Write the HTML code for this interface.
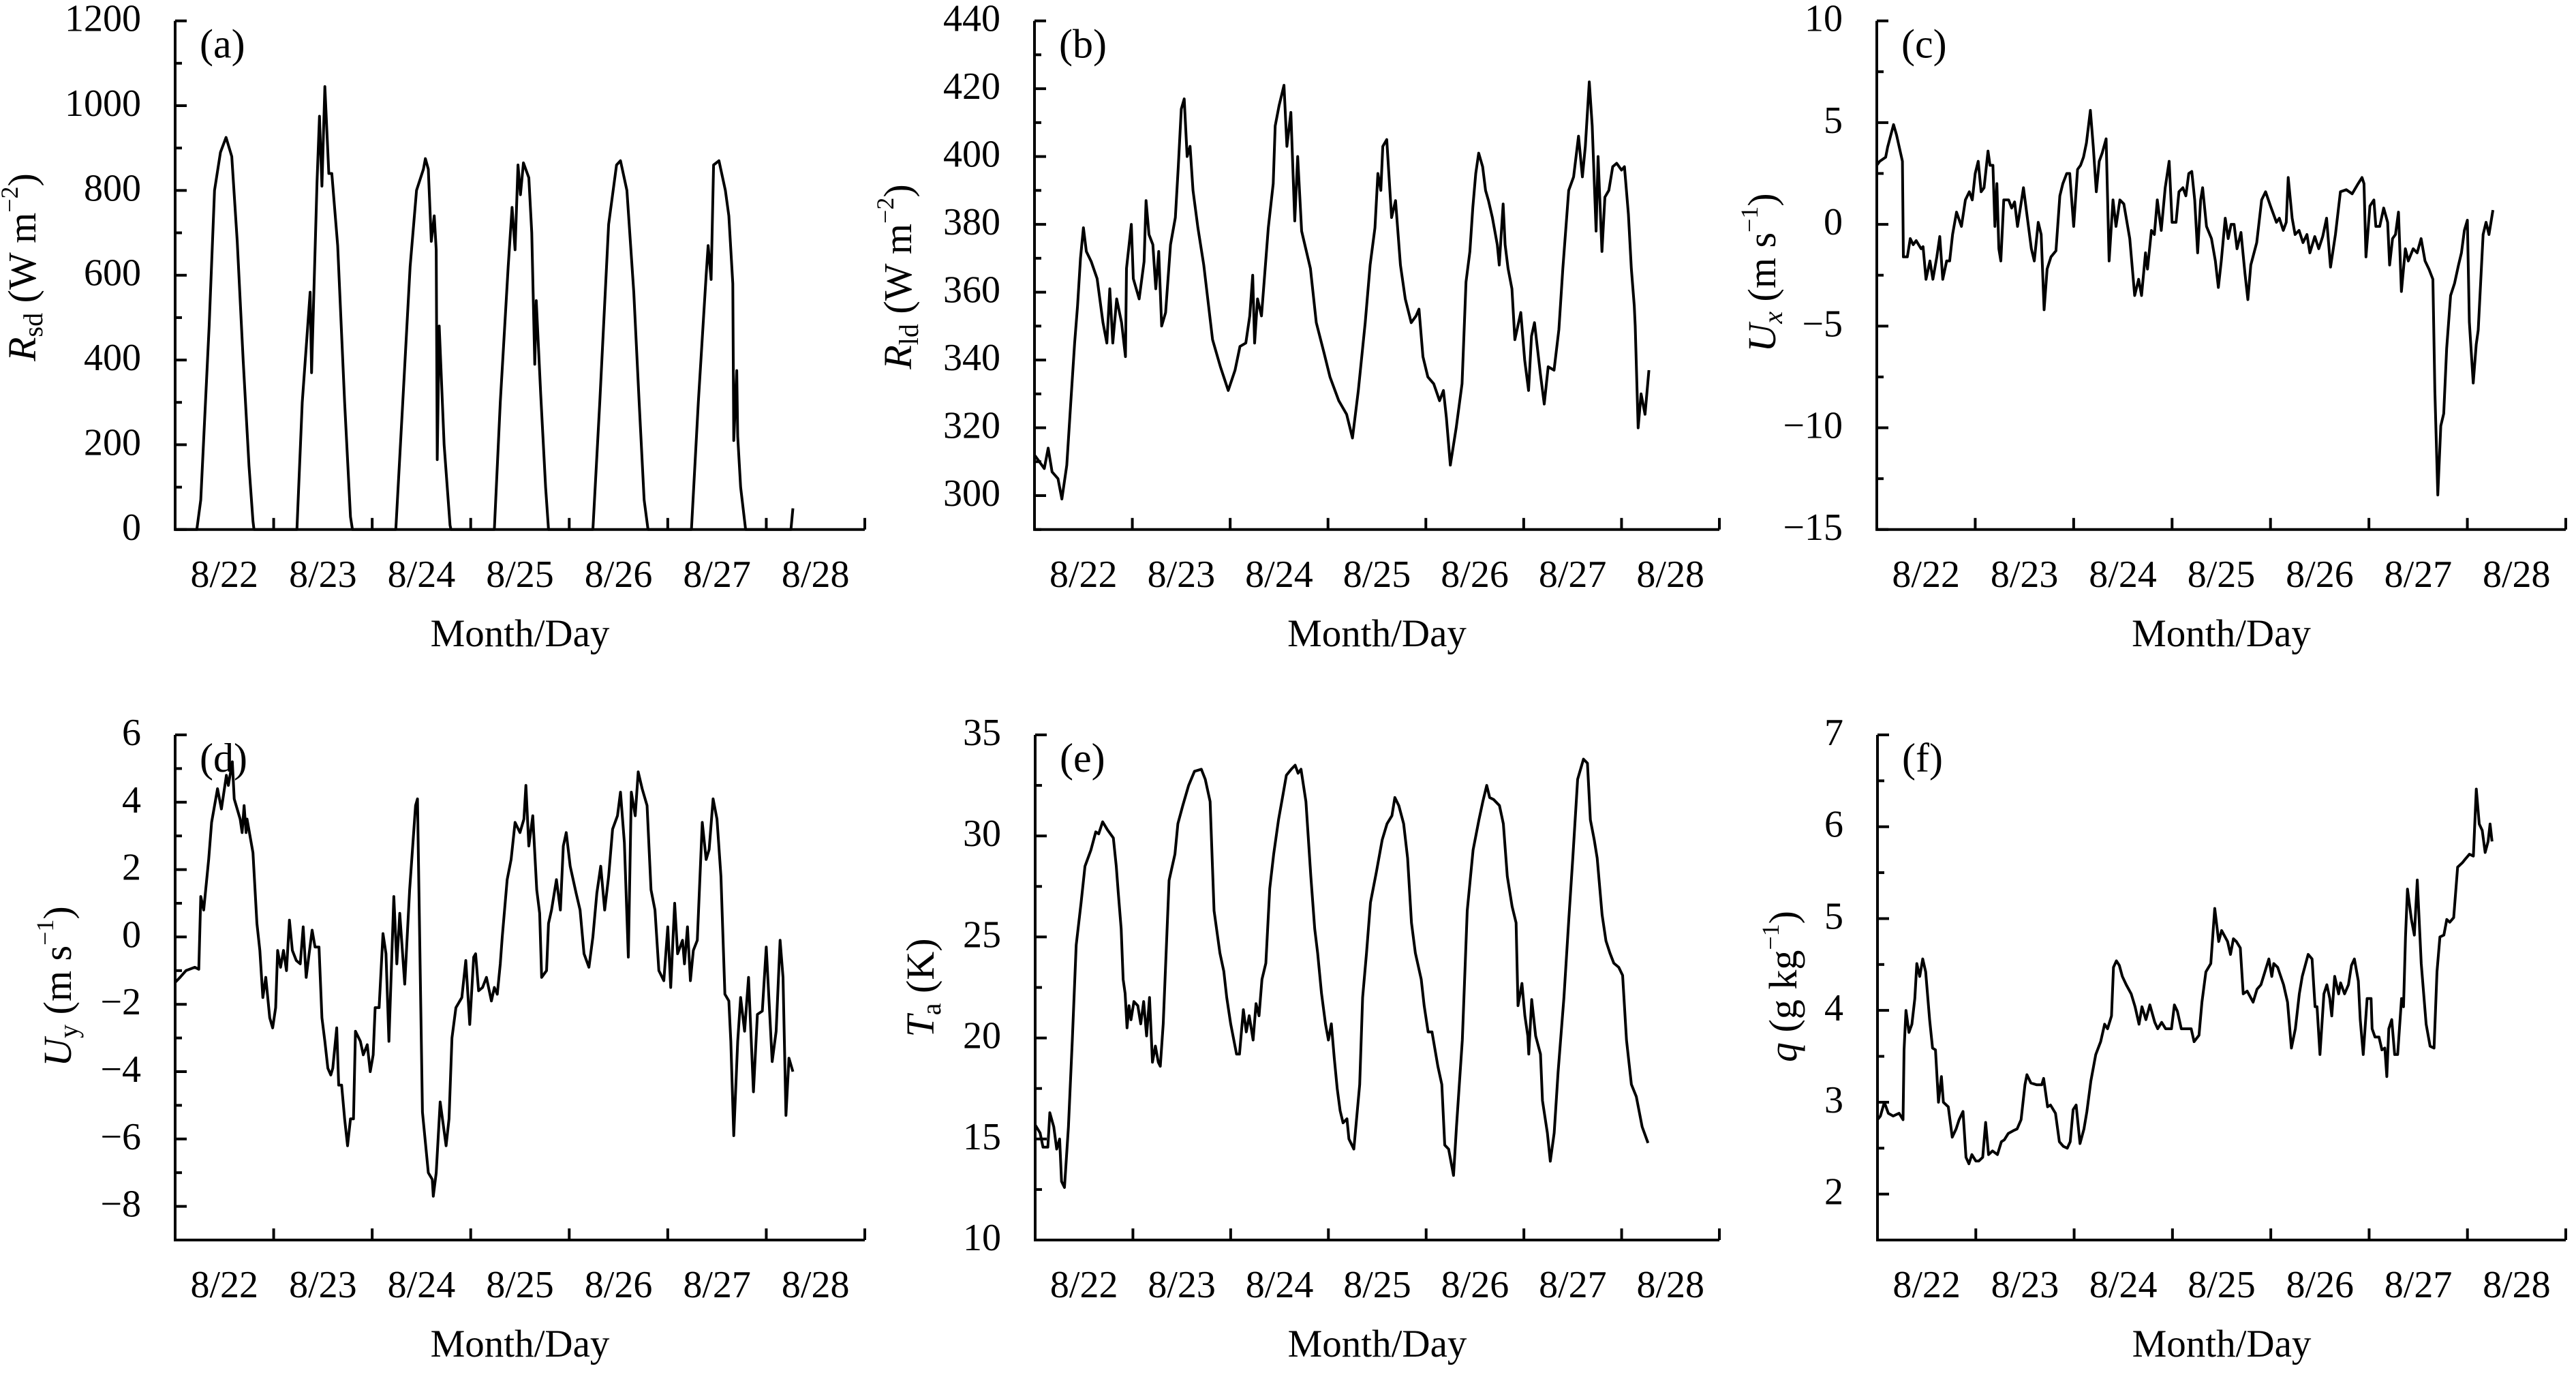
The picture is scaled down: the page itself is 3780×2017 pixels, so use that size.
<!DOCTYPE html>
<html><head><meta charset="utf-8"><title>Meteorological time series</title>
<style>
html,body{margin:0;padding:0;background:#fff;}
svg{display:block;}
svg text, svg tspan{font-family:"Liberation Serif","Noto Serif CJK SC","DejaVu Serif",serif;fill:#000;}
</style></head>
<body>
<svg id="fig" xmlns="http://www.w3.org/2000/svg" width="3780" height="2017" viewBox="0 0 3780 2017"></svg>
<script>
// ---------- data (time in days since 8/22 00:00) ----------
const dayLabels = ["8/22","8/23","8/24","8/25","8/26","8/27","8/28"];

const rsdT = [0,0.22,0.26,0.345,0.40,0.46,0.517,0.575,0.63,0.69,0.75,0.79,0.80,
 1.236,1.29,1.37,1.385,1.44,1.465,1.49,1.52,1.56,1.59,1.65,1.72,1.78,1.80,
 2.24,2.31,2.385,2.45,2.52,2.54,2.57,2.60,2.63,2.65,2.66,2.68,2.73,2.79,2.80,
 3.24,3.30,3.38,3.42,3.45,3.48,3.505,3.535,3.59,3.62,3.65,3.665,3.71,3.76,3.79,
 4.24,4.31,4.40,4.48,4.52,4.585,4.655,4.71,4.76,4.80,
 5.24,5.31,5.39,5.41,5.44,5.465,5.52,5.585,5.62,5.66,5.67,5.70,5.71,5.74,5.79,
 6.25,6.27];
const rsdV = [0,0,70,480,800,890,925,880,680,400,150,20,0,
 0,300,560,370,820,975,810,1045,840,840,670,300,30,0,
 0,300,620,800,850,875,850,680,740,660,165,480,200,10,0,
 0,300,620,760,660,860,790,865,830,700,390,540,320,100,0,
 0,300,720,860,870,800,560,300,70,0,
 0,300,600,670,590,860,870,800,740,580,210,375,220,100,0,
 0,50];

const rldT = [0,0.10,0.14,0.18,0.24,0.28,0.33,0.37,0.41,0.44,0.47,0.50,0.53,0.58,0.64,0.70,0.74,0.77,0.80,0.84,0.89,0.93,0.94,0.99,1.01,1.07,1.12,1.14,1.17,1.21,1.24,1.27,1.30,1.34,1.39,1.44,1.47,1.50,1.53,1.56,1.59,1.62,1.67,1.73,1.82,1.90,1.98,2.05,2.10,2.16,2.20,2.23,2.25,2.28,2.32,2.39,2.44,2.46,2.50,2.55,2.58,2.62,2.66,2.69,2.73,2.82,2.88,2.96,3.02,3.11,3.19,3.25,3.31,3.38,3.43,3.48,3.51,3.54,3.56,3.60,3.65,3.69,3.74,3.79,3.85,3.90,3.93,3.97,4.02,4.08,4.14,4.18,4.21,4.25,4.31,4.37,4.41,4.45,4.48,4.51,4.54,4.58,4.61,4.64,4.68,4.73,4.75,4.79,4.81,4.84,4.88,4.91,4.97,5.01,5.05,5.08,5.11,5.17,5.21,5.25,5.31,5.36,5.40,5.46,5.51,5.56,5.60,5.63,5.67,5.70,5.74,5.76,5.80,5.83,5.87,5.91,5.95,6.00,6.03,6.07,6.10,6.13,6.14,6.17,6.20,6.24,6.28];
const rldV = [312,308,314,307,305,299,309,327,345,356,370,379,372,369,364,351,345,361,345,358,351,341,367,380,364,358,369,387,377,374,361,372,350,354,374,382,397,414,417,400,403,390,379,368,346,338,331,337,344,345,353,365,345,358,353,379,392,409,415,421,403,413,381,400,378,367,351,342,335,328,324,317,331,351,368,379,395,390,403,405,382,387,368,358,351,353,355,341,335,333,328,331,323,309,320,333,363,372,385,395,401,397,390,387,382,374,368,386,374,367,361,346,354,340,331,347,351,336,327,338,337,349,367,390,394,406,394,403,422,409,378,400,372,388,390,397,398,396,397,383,367,356,350,320,330,324,337];

const uxT = [0,0.03,0.09,0.11,0.17,0.20,0.26,0.27,0.31,0.34,0.37,0.40,0.45,0.47,0.50,0.54,0.57,0.61,0.64,0.67,0.71,0.74,0.77,0.81,0.86,0.90,0.94,0.97,1.00,1.03,1.06,1.09,1.13,1.15,1.18,1.20,1.22,1.24,1.26,1.29,1.34,1.37,1.40,1.43,1.49,1.53,1.57,1.60,1.64,1.67,1.70,1.73,1.77,1.82,1.86,1.89,1.93,1.96,2.00,2.04,2.07,2.10,2.13,2.17,2.20,2.23,2.26,2.29,2.33,2.36,2.40,2.43,2.47,2.51,2.57,2.62,2.66,2.69,2.73,2.75,2.79,2.82,2.85,2.89,2.93,2.97,3.00,3.04,3.07,3.11,3.14,3.17,3.20,3.23,3.26,3.29,3.31,3.35,3.40,3.44,3.47,3.50,3.54,3.57,3.60,3.63,3.66,3.70,3.74,3.77,3.80,3.86,3.91,3.95,4.00,4.06,4.09,4.13,4.16,4.18,4.22,4.25,4.29,4.33,4.37,4.40,4.45,4.49,4.53,4.57,4.61,4.66,4.71,4.77,4.83,4.89,4.93,4.95,4.97,5.01,5.05,5.07,5.11,5.15,5.19,5.21,5.24,5.27,5.30,5.33,5.37,5.40,5.45,5.49,5.53,5.57,5.61,5.65,5.67,5.70,5.73,5.76,5.79,5.83,5.87,5.91,5.94,5.97,6.00,6.02,6.06,6.09,6.11,6.16,6.19,6.22,6.26];
const uxV = [2.9,3.1,3.3,3.8,4.9,4.4,3.1,-1.6,-1.6,-0.7,-1.0,-0.8,-1.2,-1.1,-2.7,-1.8,-2.7,-1.6,-0.6,-2.7,-1.8,-1.8,-0.5,0.6,-0.1,1.2,1.6,1.2,2.5,3.1,1.6,1.8,3.6,2.9,2.9,-0.1,2.0,-1.2,-1.8,1.2,1.2,0.8,1.1,-0.1,1.8,0.3,-1.2,-1.8,0.1,-0.5,-4.2,-2.2,-1.6,-1.3,1.4,2.0,2.5,2.5,-0.1,2.7,2.9,3.3,4.0,5.6,3.8,1.6,3.1,3.5,4.2,-1.8,1.2,-0.1,1.2,1.0,-0.7,-3.5,-2.7,-3.5,-1.4,-2.2,-0.3,-0.5,1.2,-0.3,1.8,3.1,0.1,0.1,1.6,1.8,1.4,2.5,2.6,1.2,-1.4,1.2,1.8,-0.1,-0.7,-1.8,-3.1,-1.8,0.3,-0.7,0.0,0.0,-1.2,-0.4,-2.4,-3.7,-2.0,-0.9,1.2,1.6,0.9,0.1,0.3,-0.3,0.1,2.3,0.3,-0.5,-0.3,-0.9,-0.5,-1.4,-0.6,-1.2,-0.6,0.3,-2.1,-0.5,1.6,1.7,1.5,2.0,2.3,2.0,-1.6,0.9,1.2,-0.1,-0.1,0.8,0.1,-2.0,-0.7,-0.5,0.6,-3.3,-1.2,-1.8,-1.2,-1.4,-0.7,-1.8,-2.2,-2.7,-8.2,-13.3,-9.9,-9.3,-6.1,-3.5,-2.9,-2.0,-1.4,-0.3,0.2,-4.8,-7.8,-5.9,-5.2,-0.5,0.1,-0.5,0.7];

const uyT = [0,0.05,0.11,0.20,0.24,0.26,0.29,0.34,0.37,0.43,0.47,0.52,0.54,0.58,0.60,0.66,0.68,0.70,0.72,0.73,0.79,0.83,0.86,0.89,0.92,0.96,0.99,1.02,1.04,1.07,1.10,1.13,1.16,1.19,1.23,1.27,1.30,1.33,1.36,1.39,1.42,1.46,1.49,1.52,1.55,1.58,1.60,1.64,1.66,1.69,1.72,1.75,1.78,1.81,1.83,1.88,1.91,1.95,1.98,2.01,2.03,2.07,2.11,2.14,2.17,2.22,2.25,2.28,2.33,2.38,2.44,2.46,2.51,2.57,2.61,2.62,2.65,2.69,2.75,2.78,2.81,2.85,2.91,2.95,2.99,3.03,3.05,3.08,3.12,3.16,3.21,3.24,3.27,3.30,3.32,3.37,3.41,3.45,3.50,3.54,3.56,3.59,3.63,3.67,3.70,3.72,3.77,3.79,3.82,3.87,3.91,3.94,3.97,4.01,4.07,4.11,4.15,4.20,4.24,4.28,4.32,4.36,4.40,4.44,4.49,4.52,4.56,4.60,4.63,4.67,4.70,4.74,4.79,4.83,4.87,4.91,4.96,5.00,5.03,5.07,5.10,5.15,5.17,5.20,5.23,5.26,5.30,5.35,5.39,5.42,5.46,5.50,5.54,5.58,5.62,5.64,5.67,5.71,5.74,5.78,5.82,5.87,5.91,5.96,6.00,6.06,6.10,6.14,6.17,6.20,6.23,6.27];
const uyV = [-1.35,-1.2,-1.0,-0.9,-0.96,1.2,0.8,2.3,3.4,4.4,3.8,4.8,4.5,5.2,4.1,3.5,3.1,3.9,3.1,3.5,2.5,0.4,-0.4,-1.8,-1.2,-2.4,-2.7,-2.1,-0.4,-0.9,-0.4,-1.0,0.5,-0.4,-0.7,-0.8,0.3,-1.2,-0.5,0.2,-0.3,-0.3,-2.4,-3.1,-3.9,-4.1,-3.9,-2.7,-4.4,-4.4,-5.4,-6.2,-5.4,-5.4,-2.8,-3.1,-3.5,-3.2,-4.0,-3.5,-2.1,-2.1,0.1,-0.5,-3.1,1.2,-0.8,0.7,-1.4,1.4,3.9,4.1,-5.2,-7.0,-7.2,-7.7,-7.0,-4.9,-6.2,-5.4,-3.0,-2.1,-1.8,-0.7,-2.6,-0.6,-0.5,-1.6,-1.5,-1.2,-1.9,-1.5,-1.7,-0.8,0.0,1.7,2.3,3.4,3.1,3.5,4.5,2.7,3.6,1.4,0.7,-1.2,-1.0,0.4,0.8,1.7,0.8,2.7,3.1,2.1,1.3,0.8,-0.5,-0.9,0.0,1.3,2.1,0.8,1.8,3.2,3.6,4.3,2.8,-0.6,4.3,3.6,4.9,4.4,3.9,1.4,0.8,-1.0,-1.3,0.3,-1.5,1.0,-0.5,-0.1,-0.8,0.3,-1.3,-0.4,-0.1,3.4,2.3,2.6,4.1,3.5,1.8,-1.7,-1.9,-3.1,-5.9,-3.1,-1.8,-2.8,-1.2,-4.6,-2.3,-2.2,-0.3,-3.7,-2.8,-0.1,-1.2,-5.3,-3.6,-4.0];

const taT = [0,0.05,0.08,0.13,0.15,0.19,0.22,0.25,0.27,0.30,0.34,0.38,0.42,0.47,0.51,0.57,0.62,0.65,0.69,0.74,0.80,0.83,0.85,0.88,0.90,0.92,0.94,0.96,0.98,1.01,1.05,1.08,1.11,1.14,1.17,1.20,1.23,1.26,1.28,1.31,1.37,1.43,1.46,1.51,1.57,1.63,1.70,1.74,1.79,1.83,1.89,1.93,1.96,2.00,2.06,2.09,2.13,2.16,2.19,2.23,2.26,2.29,2.32,2.36,2.40,2.44,2.49,2.53,2.57,2.62,2.66,2.69,2.72,2.77,2.82,2.86,2.89,2.93,2.97,3.00,3.03,3.06,3.09,3.12,3.15,3.19,3.21,3.26,3.32,3.35,3.39,3.43,3.49,3.55,3.60,3.65,3.68,3.72,3.77,3.81,3.85,3.89,3.95,3.98,4.02,4.06,4.12,4.16,4.19,4.23,4.28,4.31,4.37,4.42,4.48,4.54,4.58,4.62,4.65,4.69,4.75,4.79,4.83,4.88,4.92,4.94,4.98,5.01,5.04,5.05,5.08,5.12,5.17,5.19,5.24,5.27,5.31,5.35,5.41,5.46,5.50,5.55,5.61,5.65,5.68,5.72,5.75,5.80,5.84,5.88,5.92,5.97,6.01,6.05,6.10,6.15,6.21,6.27];
const taV = [15.7,15.3,14.6,14.6,16.3,15.6,14.5,15.0,12.9,12.6,15.6,19.9,24.6,26.7,28.5,29.3,30.2,30.1,30.7,30.3,29.9,28.5,27.2,25.4,22.9,22.2,20.5,21.6,20.9,21.8,21.6,20.7,21.8,20.1,22.0,18.8,19.6,18.8,18.6,20.7,27.8,29.1,30.6,31.5,32.5,33.2,33.3,32.8,31.7,26.3,24.2,23.3,22.0,20.7,19.2,19.2,21.4,20.3,21.1,19.9,21.7,21.1,22.9,23.7,27.4,29.1,30.8,31.9,33.0,33.3,33.5,33.1,33.3,31.7,28.0,25.4,24.2,22.2,20.7,19.9,20.7,19.0,17.5,16.4,15.8,16.0,15.0,14.5,17.7,22.0,24.2,26.7,28.2,29.8,30.6,31.0,31.9,31.5,30.6,28.9,25.7,24.2,22.9,21.6,20.3,20.3,18.6,17.7,14.7,14.5,13.2,15.6,19.9,26.3,29.3,30.8,31.7,32.5,31.9,31.8,31.5,30.6,28.0,26.5,25.7,21.6,22.7,21.1,20.1,19.2,21.9,20.1,19.2,16.9,15.3,13.9,15.3,18.3,22.0,25.9,28.9,32.8,33.8,33.6,30.8,29.8,28.9,26.1,24.8,24.2,23.7,23.5,23.1,19.9,17.7,17.1,15.6,14.8];

const qT = [0,0.03,0.07,0.11,0.16,0.22,0.26,0.27,0.29,0.32,0.35,0.38,0.40,0.43,0.46,0.49,0.53,0.56,0.59,0.62,0.65,0.67,0.72,0.76,0.80,0.83,0.87,0.90,0.93,0.96,1.00,1.03,1.07,1.10,1.13,1.17,1.22,1.26,1.29,1.33,1.38,1.42,1.46,1.50,1.52,1.56,1.62,1.67,1.69,1.73,1.76,1.81,1.85,1.89,1.93,1.96,1.99,2.02,2.06,2.10,2.13,2.17,2.22,2.27,2.31,2.34,2.38,2.40,2.43,2.46,2.49,2.53,2.58,2.62,2.66,2.69,2.73,2.77,2.82,2.85,2.89,2.93,2.99,3.02,3.05,3.09,3.13,3.19,3.22,3.27,3.30,3.34,3.39,3.43,3.47,3.50,3.56,3.59,3.62,3.65,3.69,3.72,3.76,3.82,3.86,3.90,3.94,3.98,4.01,4.03,4.07,4.13,4.17,4.21,4.25,4.29,4.32,4.38,4.42,4.45,4.47,4.50,4.54,4.57,4.60,4.62,4.65,4.69,4.71,4.75,4.79,4.82,4.85,4.89,4.91,4.94,4.98,5.02,5.03,5.06,5.10,5.13,5.16,5.18,5.20,5.23,5.26,5.29,5.33,5.35,5.37,5.39,5.43,5.46,5.49,5.53,5.58,5.62,5.66,5.69,5.72,5.76,5.79,5.82,5.86,5.90,5.95,5.98,6.02,6.06,6.09,6.12,6.15,6.18,6.21,6.23,6.25];
const qV = [2.81,2.85,3.0,2.88,2.85,2.88,2.81,3.57,4.0,3.76,3.85,4.13,4.51,4.37,4.56,4.42,3.90,3.59,3.57,3.0,3.28,3.0,2.95,2.62,2.71,2.81,2.90,2.40,2.33,2.43,2.36,2.36,2.40,2.78,2.43,2.47,2.43,2.57,2.59,2.66,2.69,2.71,2.81,3.19,3.30,3.21,3.19,3.19,3.26,2.95,2.97,2.88,2.57,2.52,2.50,2.57,2.92,2.97,2.55,2.71,2.90,3.23,3.52,3.66,3.85,3.80,3.94,4.47,4.54,4.49,4.37,4.28,4.18,4.04,3.85,4.04,3.90,4.06,3.87,3.80,3.87,3.80,3.80,4.06,3.99,3.80,3.80,3.80,3.66,3.73,4.09,4.42,4.51,5.11,4.75,4.87,4.75,4.61,4.78,4.75,4.68,4.18,4.21,4.09,4.23,4.28,4.42,4.56,4.37,4.51,4.47,4.28,4.09,3.59,3.80,4.18,4.37,4.61,4.56,4.04,4.04,3.52,4.18,4.28,4.13,3.94,4.37,4.18,4.30,4.18,4.28,4.49,4.56,4.32,3.90,3.52,4.13,4.13,3.80,3.71,3.71,3.57,3.59,3.28,3.80,3.90,3.52,3.52,4.13,4.04,4.80,5.32,4.99,4.82,5.42,4.51,3.85,3.61,3.59,4.42,4.80,4.82,4.99,4.96,5.01,5.56,5.61,5.65,5.70,5.68,6.41,6.03,5.96,5.72,5.84,6.03,5.84];

// ---------- layout ----------
const NS = "http://www.w3.org/2000/svg";
const FONT = "'Liberation Serif', 'Noto Serif CJK SC', 'DejaVu Serif', serif";
const svg = document.getElementById('fig');
function mk(tag, attrs, parent) {
  const e = document.createElementNS(NS, tag);
  for (const k in attrs) e.setAttribute(k, attrs[k]);
  if (tag === 'text') e.style.fontFamily = FONT;
  (parent || svg).appendChild(e);
  return e;
}

const panels = [
  {id:'a', x0:257, x1:1269, yTop:30.6, yBot:776.8, min:0, max:1200, major:[0,200,400,600,800,1000,1200], minorStep:100, T:rsdT, V:rsdV,
   label:[['R','italic',''],['sd','normal','sub'],[' (W m','normal',''],['\u22122','normal','sup'],[')','normal','']], lx:52, ly:392},
  {id:'b', x0:1518, x1:2523, yTop:30.6, yBot:776.8, min:290, max:440, major:[300,320,340,360,380,400,420,440], minorStep:10, T:rldT, V:rldV,
   label:[['R','italic',''],['ld','normal','sub'],[' (W m','normal',''],['\u22122','normal','sup'],[')','normal','']], lx:1337, ly:406},
  {id:'c', x0:2754, x1:3765, yTop:30.6, yBot:776.8, min:-15, max:10, major:[-15,-10,-5,0,5,10], minorStep:2.5, T:uxT, V:uxV,
   label:[['U','italic',''],['x','italic','sub'],[' (m s','normal',''],['\u22121','normal','sup'],[')','normal','']], lx:2605, ly:400},
  {id:'d', x0:257, x1:1269, yTop:1078, yBot:1819, min:-9, max:6, major:[-8,-6,-4,-2,0,2,4,6], minorStep:1, T:uyT, V:uyV,
   label:[['U','italic',''],['y','normal','sub'],[' (m s','normal',''],['\u22121','normal','sup'],[')','normal','']], lx:104, ly:1447},
  {id:'e', x0:1519, x1:2523, yTop:1078, yBot:1819, min:10, max:35, major:[10,15,20,25,30,35], minorStep:2.5, T:taT, V:taV,
   label:[['T','italic',''],['a','normal','sub'],[' (K)','normal','']], lx:1370, ly:1449},
  {id:'f', x0:2755, x1:3765, yTop:1078, yBot:1819, min:1.5, max:7, major:[2,3,4,5,6,7], minorStep:0.5, T:qT, V:qV,
   label:[['q','italic',''],[' (g kg','normal',''],['\u22121','normal','sup'],[')','normal','']], lx:2636, ly:1447}
];

function fmt(v){ return (v<0?'\u2212':'') + Math.abs(v); }

panels.forEach(p => {
  const g = mk('g', {});
  
  
  const dayW = (p.x1 - p.x0) / 7;
  const xs = t => p.x0 + t * dayW;
  const ys = v => p.yBot - (v - p.min) / (p.max - p.min) * (p.yBot - p.yTop);
  const topY = ys(p.major[p.major.length-1]);

  const ax = mk('path', {d:`M${p.x0},${topY} L${p.x0},${p.yBot} L${p.x1},${p.yBot}`, fill:'none', stroke:'#000', 'stroke-width':4, 'stroke-linejoin':'miter'}, g);
  
  

  const nMinor = Math.round((p.major[p.major.length-1] - p.min) / p.minorStep);
  for (let i = 0; i <= nMinor; i++) {
    const v = p.min + i * p.minorStep;
    const isMajor = p.major.some(m => Math.abs(m - v) < 1e-6);
    const y = ys(v);
    const tk = mk('line', {x1:p.x0, y1:y, x2:p.x0 + (isMajor?17:10), y2:y, stroke:'#000', 'stroke-width':4}, g);
    
    
  }
  p.major.forEach(v => {
    const t = mk('text', {x:p.x0 - 50, y:ys(v) + 15, 'text-anchor':'end', 'font-size':56}, g);
    t.textContent = fmt(v);
    
    
  });
  for (let k = 1; k <= 7; k++) {
    const tk = mk('line', {x1:xs(k), y1:p.yBot, x2:xs(k), y2:p.yBot - 17, stroke:'#000', 'stroke-width':4}, g);
    
    
  }
  dayLabels.forEach((lab, k) => {
    const t = mk('text', {x:xs(k + 0.5), y:p.yBot + 84, 'text-anchor':'middle', 'font-size':56}, g);
    t.textContent = lab;
    
    
  });
  const xt = mk('text', {x:(p.x0 + p.x1) / 2, y:p.yBot + 171, 'text-anchor':'middle', 'font-size':57}, g);
  xt.textContent = 'Month/Day';
  
  

  const yt = mk('text', {x:0, y:0, 'text-anchor':'middle', 'font-size':58, transform:`translate(${p.lx},${p.ly}) rotate(-90)`}, g);
  
  
  p.label.forEach(([s, style, pos]) => {
    const ts = mk('tspan', {}, yt);
    ts.textContent = s;
    if (style === 'italic') ts.setAttribute('font-style', 'italic');
    if (pos === 'sub') { ts.setAttribute('font-size', 40); ts.setAttribute('dy', 10); }
    if (pos === 'sup') { ts.setAttribute('font-size', 36); ts.setAttribute('dy', -26); }
    if (pos === '') {
      const prev = ts.previousSibling;
      if (prev && prev.getAttribute && prev.getAttribute('dy')) ts.setAttribute('dy', -parseFloat(prev.getAttribute('dy')));
    }
  });

  const pl = mk('text', {x:p.x0 + 36, y:p.yTop + 54, 'font-size':60}, g);
  pl.textContent = '(' + p.id + ')';
  
  

  const n = Math.min(p.T.length, p.V.length);
  let d = '';
  for (let i = 0; i < n; i++) d += (i ? 'L' : 'M') + xs(p.T[i]).toFixed(1) + ',' + ys(p.V[i]).toFixed(1);
  const ln = mk('path', {d:d, fill:'none', stroke:'#000', 'stroke-width':4, 'stroke-linejoin':'round'}, g);
  
  
});
</script>
</body></html>
